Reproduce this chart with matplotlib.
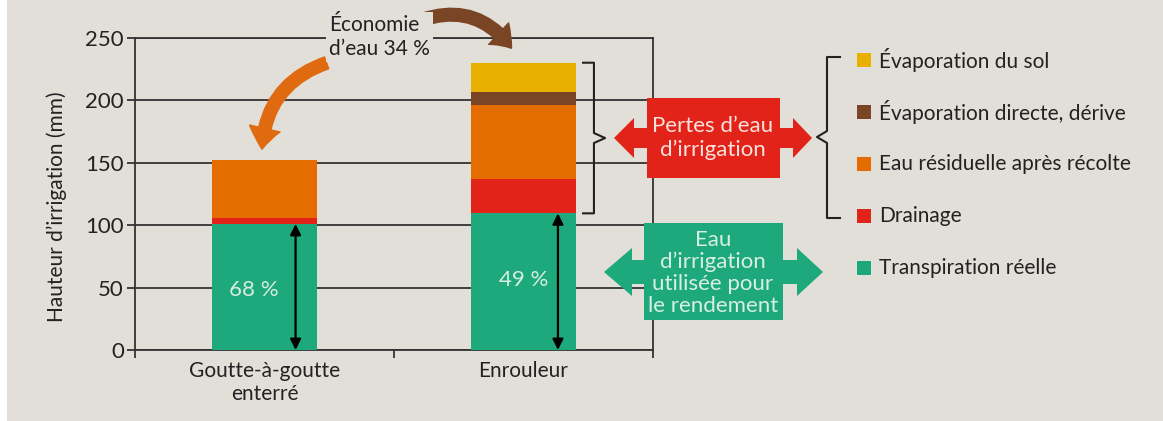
import matplotlib
matplotlib.use("Agg")
import matplotlib.pyplot as plt
from matplotlib.patches import Polygon, Rectangle, FancyArrowPatch
from matplotlib.lines import Line2D

plt.rcParams['font.family'] = ['Lato', 'DejaVu Sans']

# donnees (mm)
categories = ['Goutte-à-goutte\nenterré', 'Enrouleur']
transpiration = [101, 109.5]
drainage = [5, 27.3]
residuelle = [46, 59.5]
evap_directe = [0, 10.7]
evap_sol = [0, 23.2]
pct_labels = ['68 %', '49 %']
pct_y = [48, 56]

noms = ['Transpiration réelle', 'Drainage', 'Eau résiduelle après récolte',
        'Évaporation directe, dérive', 'Évaporation du sol']
couleurs = ['#1ea97c', '#e2231a', '#e56d00', '#7a4525', '#e8b100']
series = [transpiration, drainage, residuelle, evap_directe, evap_sol]

BG = '#e2ded8'
TXT = '#222222'
W, H = 1163, 421
FS = 15

def fx(x):
    return x / W

def fy(y):
    return 1 - y / H

fig = plt.figure(figsize=(W / 100, H / 100), dpi=100, facecolor='white')
fig.patches.append(Rectangle((fx(7), 0), 1, 1, transform=fig.transFigure,
                             facecolor=BG, edgecolor='none', zorder=-10))

ax = fig.add_axes([fx(135), 71 / H, 518 / W, 312 / H])
ax.patch.set_alpha(0)

x = [0, 1]
bas = [0, 0]
for vals, col in zip(series, couleurs):
    ax.bar(x, vals, bottom=bas, width=0.405, color=col, zorder=3)
    bas = [b + v for b, v in zip(bas, vals)]

ax.set_xlim(-0.5, 1.5)
ax.set_ylim(0, 250)
ax.set_yticks([0, 50, 100, 150, 200, 250])
ax.grid(axis='y', color='#333333', lw=1.3, zorder=1)
for s in ax.spines.values():
    s.set_color('#333333')
    s.set_linewidth(1.3)
ax.set_xticks([-0.5, 0.5, 1.5])
ax.set_xticklabels([])
ax.set_xticks(x, categories, minor=True)
ax.tick_params(axis='x', which='major', length=6, width=1.3, color='#333333')
ax.tick_params(axis='x', which='minor', length=0, pad=8, labelsize=FS,
               labelcolor=TXT)
ax.tick_params(axis='y', length=6, width=1.3, color='#333333', labelsize=FS + 1,
               labelcolor=TXT, pad=2)
ax.set_ylabel('Hauteur d’irrigation (mm)', fontsize=FS, color=TXT)
ax.yaxis.set_label_coords(-0.131, 0.46)

# fleches noires dans le vert + pourcentages
for xi, t, p, yp, dx, dt in zip(x, transpiration, pct_labels, pct_y,
                                [0.12, 0.133], [-0.04, 0.0]):
    ax.annotate('', xy=(xi + dx, 0), xytext=(xi + dx, t),
                arrowprops=dict(arrowstyle='<|-|>', color='black', lw=1.6,
                                mutation_scale=16, shrinkA=0, shrinkB=0),
                zorder=5)
    ax.text(xi + dt, yp, p, ha='center', va='center',
            fontsize=FS + 1, color='#d6ede0', zorder=5)

# accolade a droite de la barre
tot = bas[1]
t0 = transpiration[1]
mid = (tot + t0) / 2
ax.plot([1.23, 1.272, 1.272, 1.315, 1.272, 1.272, 1.23],
        [tot, tot, mid + 4, mid, mid - 4, t0, t0],
        color='#222222', lw=1.5, clip_on=False, zorder=4)

# fleches courbes
ax.add_patch(FancyArrowPatch((0.25, 230.8), (-0.01, 158.7),
                             connectionstyle='arc3,rad=0.35',
                             arrowstyle='simple,head_length=1.0,head_width=1.5,tail_width=0.6',
                             mutation_scale=15, color='#e06a10', clip_on=False,
                             zorder=6))
ax.add_patch(FancyArrowPatch((0.6, 264), (0.96, 240),
                             connectionstyle='arc3,rad=-0.38',
                             arrowstyle='simple,head_length=1.0,head_width=1.5,tail_width=0.65',
                             mutation_scale=14, color='#7a4525', clip_on=False,
                             zorder=6))
fig.text(fx(329), fy(37), 'Économie\nd’eau 34 %', ha='left', va='center',
         fontsize=FS, color=TXT, linespacing=1.25,
         bbox=dict(facecolor=BG, edgecolor='none', pad=2), zorder=7)

# boites double fleche
def double_fleche(x0, x1, yc, hh, sh, b0, b1, color):
    pts = [(x0, yc), (b0, yc - hh), (b0, yc - sh), (b1, yc - sh), (b1, yc - hh),
           (x1, yc), (b1, yc + hh), (b1, yc + sh), (b0, yc + sh), (b0, yc + hh)]
    fig.patches.append(Polygon([(fx(a), fy(b)) for a, b in pts], closed=True,
                               transform=fig.transFigure, facecolor=color,
                               edgecolor='none', zorder=5))

double_fleche(614, 812, 138, 20, 10, 634, 793, '#e2231a')
fig.patches.append(Rectangle((fx(647), fy(178)), (780 - 647) / W, 80 / H,
                             transform=fig.transFigure, facecolor='#e2231a',
                             edgecolor='none', zorder=5))
fig.text(fx(713), fy(138), 'Pertes d’eau\nd’irrigation', ha='center', va='center',
         fontsize=FS + 1, color='#fbe2dc', linespacing=1.2, zorder=8)

double_fleche(604, 823, 272, 24, 12, 632, 797, '#1ea97c')
fig.patches.append(Rectangle((fx(644), fy(320)), (783 - 644) / W, 97 / H,
                             transform=fig.transFigure, facecolor='#1ea97c',
                             edgecolor='none', zorder=5))
fig.text(fx(713), fy(273), 'Eau\nd’irrigation\nutilisée pour\nle rendement',
         ha='center', va='center', fontsize=FS + 1, color='#d8efe3',
         linespacing=1.13, zorder=8)

# accolade de la legende
br_x = [840, 827, 827, 817, 827, 827, 840]
br_y = [57, 57, 131, 137, 143, 218, 218]
fig.add_artist(Line2D([fx(a) for a in br_x], [fy(b) for b in br_y],
                      transform=fig.transFigure, color='#222222', lw=1.5))

# legende
for i, (nom, col) in enumerate(zip(noms[::-1], couleurs[::-1])):
    yy = 60 + i * 52
    fig.patches.append(Rectangle((fx(857), fy(yy + 7)), 14 / W, 14 / H,
                                 transform=fig.transFigure, facecolor=col,
                                 edgecolor='none'))
    fig.text(fx(879), fy(yy), nom, ha='left', va='center', fontsize=FS,
             color=TXT)

fig.savefig('out.png', dpi=100, facecolor=fig.get_facecolor())
